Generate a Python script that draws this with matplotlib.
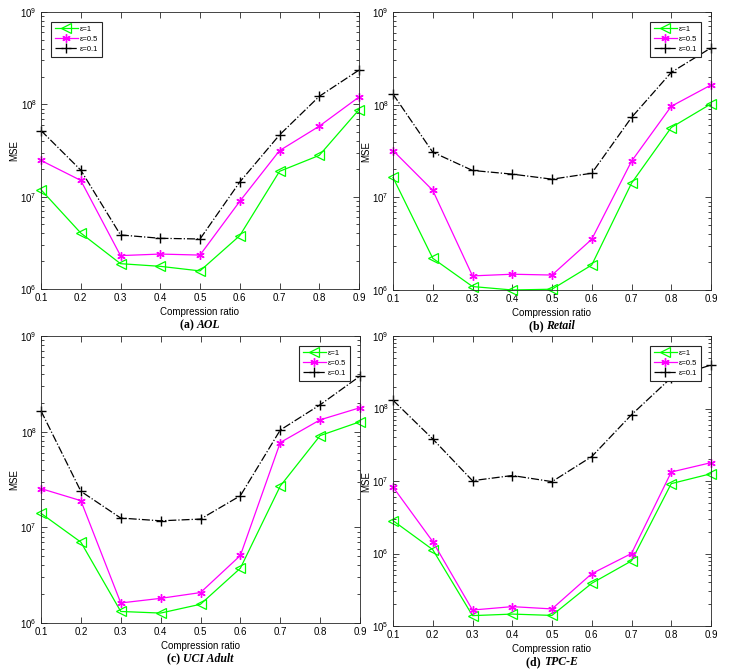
# MSE vs compression ratio for four datasets, three privacy budgets

import numpy as np
import matplotlib
matplotlib.use('Agg')
import matplotlib.pyplot as plt
from matplotlib.offsetbox import TextArea, HPacker, AnchoredOffsetbox
from matplotlib.ticker import LogLocator, NullFormatter

plt.rcParams['font.family'] = ['Liberation Sans', 'DejaVu Sans']

ratio = [0.1, 0.2, 0.3, 0.4, 0.5, 0.6, 0.7, 0.8, 0.9]
labels = ['ε=1', 'ε=0.5', 'ε=0.1']

# (a) AOL
aol_e1 = [1.19e7, 4.04e6, 1.88e6, 1.76e6, 1.57e6, 3.78e6, 1.88e7, 2.8e7, 8.75e7]
aol_e05 = [2.47e7, 1.5e7, 2.3e6, 2.39e6, 2.33e6, 8.9e6, 3.15e7, 5.8e7, 1.2e8]
aol_e01 = [5.2e7, 1.94e7, 3.85e6, 3.54e6, 3.48e6, 1.44e7, 4.66e7, 1.22e8, 2.35e8]

# (b) Retail
ret_e1 = [1.64e7, 2.2e6, 1.09e6, 1.0e6, 1.02e6, 1.86e6, 1.42e7, 5.67e7, 1.02e8]
ret_e05 = [3.2e7, 1.19e7, 1.42e6, 1.48e6, 1.45e6, 3.53e6, 2.45e7, 9.6e7, 1.63e8]
ret_e01 = [1.3e8, 3.07e7, 1.95e7, 1.78e7, 1.57e7, 1.82e7, 7.27e7, 2.23e8, 4.1e8]

# (c) UCI Adult
uci_e1 = [1.4e7, 7.0e6, 1.32e6, 1.27e6, 1.57e6, 3.74e6, 2.7e7, 9.1e7, 1.27e8]
uci_e05 = [2.54e7, 1.9e7, 1.62e6, 1.81e6, 2.08e6, 5.08e6, 7.7e7, 1.33e8, 1.78e8]
uci_e01 = [1.65e8, 2.38e7, 1.25e7, 1.17e7, 1.22e7, 2.14e7, 1.04e8, 1.91e8, 3.81e8]

# (d) TPC-E
tpc_e1 = [2.84e6, 1.13e6, 1.39e5, 1.46e5, 1.4e5, 3.88e5, 7.9e5, 9.2e6, 1.26e7]
tpc_e05 = [8.27e6, 1.46e6, 1.66e5, 1.85e5, 1.72e5, 5.27e5, 1.0e6, 1.33e7, 1.79e7]
tpc_e01 = [1.3e8, 3.8e7, 1.01e7, 1.19e7, 9.8e6, 2.17e7, 8.2e7, 2.66e8, 3.98e8]

panels = [
    ('(a) ', 'AOL', [aol_e1, aol_e05, aol_e01], (1e6, 1e9), 'upper left'),
    ('(b) ', 'Retail', [ret_e1, ret_e05, ret_e01], (1e6, 1e9), 'upper right'),
    ('(c) ', 'UCI Adult', [uci_e1, uci_e05, uci_e01], (1e6, 1e9), 'upper right'),
    ('(d) ', 'TPC-E', [tpc_e1, tpc_e05, tpc_e01], (1e5, 1e9), 'upper right'),
]

# axes rectangles in pixels: left, top, right, bottom
W, H = 741, 671
rects = [(41, 12, 359, 289), (393, 12, 711, 290),
         (41, 336, 360, 623), (393, 336, 711, 626)]

styles = [
    dict(color='#00ff00', ls='-', marker='<', mfc='none', ms=6.5, mew=0.9),
    dict(color='#ff00ff', ls='-', marker=(6, 2, 0), ms=6, mew=1.0),
    dict(color='black', ls='-.', marker='+', ms=7, mew=1.0),
]

fig = plt.figure(figsize=(W / 100, H / 100), dpi=100)

for (tag, name, series, ylim, loc), (l, t, r, b) in zip(panels, rects):
    ax = fig.add_axes([l / W, (H - b) / H, (r - l) / W, (b - t) / H])
    for vals, lab, st in zip(series, labels, styles):
        ax.plot(ratio, vals, lw=0.9, label=lab, clip_on=False, **st)
    ax.set_yscale('log')
    ax.set_ylim(*ylim)
    ax.set_xlim(0.1, 0.9)
    ax.set_xticks(ratio)
    ax.set_xticklabels([str(v) for v in ratio])
    ax.yaxis.set_minor_locator(LogLocator(base=10, subs=np.arange(2, 10)))
    ax.yaxis.set_minor_formatter(NullFormatter())
    ax.tick_params(which='both', direction='in', top=True, right=True,
                   labelsize=7, color='#262626', width=0.6)
    ax.tick_params(which='major', length=4, pad=3)
    ax.tick_params(which='minor', length=2)
    for sp in ax.spines.values():
        sp.set_color('#262626')
        sp.set_linewidth(0.6)
    ax.set_xlabel('Compression ratio', fontsize=7, labelpad=3)
    ax.set_ylabel('MSE', fontsize=7, labelpad=1)

    leg = ax.legend(loc=loc, fontsize=5.5, handlelength=3.0, numpoints=1,
                    fancybox=False, edgecolor='#262626', framealpha=1,
                    borderpad=0.5, labelspacing=0.35, handletextpad=0.3,
                    borderaxespad=1.3)
    leg.get_frame().set_linewidth(0.8)
    leg.set_zorder(5)

    cap = HPacker(children=[
        TextArea(tag, textprops=dict(family='Liberation Serif', weight='bold', size=8.5)),
        TextArea(name, textprops=dict(family='Liberation Serif', weight='bold',
                                      style='italic', size=8.5)),
    ], align='baseline', pad=0, sep=0)
    anc = AnchoredOffsetbox(loc='center', child=cap, pad=0, borderpad=0, frameon=False,
                            bbox_to_anchor=(0.5, -(36 / (b - t))),
                            bbox_transform=ax.transAxes)
    ax.add_artist(anc)

fig.savefig('out.png', dpi=100, facecolor='white')
